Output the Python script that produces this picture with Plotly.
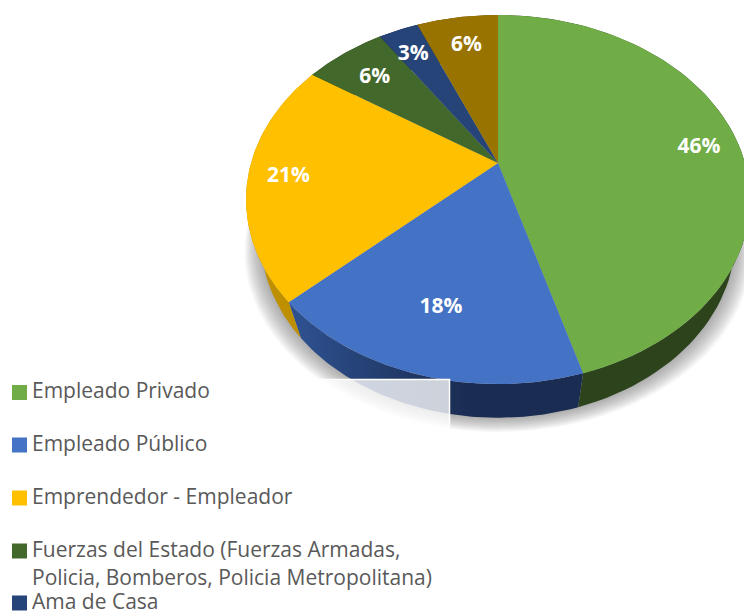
import math
import plotly.graph_objects as go

# ---- data ----
categories = ["Empleado Privado", "Empleado Público", "Emprendedor - Empleador",
              "Fuerzas del Estado (Fuerzas Armadas, Policia, Bomberos, Policia Metropolitana)",
              "Ama de Casa", "Otros"]
values = [45.5, 17.6, 21.2, 6.3, 3.1, 6.3]

# ---- styles ----
colors = ["#70AD47", "#4472C4", "#FFC000", "#43682B", "#264478", "#997300"]
wall_colors = ["#2C431C", "#1A2C52", "#BE8F00", "#2A4019", "#172A4A", "#5E4700"]
label_radius = [0.85, 0.72, 0.84, 0.78, 0.83, 0.80]
label_nudge_x = [-2, -2, 0, 0, 0, 2]
label_nudge_y = [5, 2, 1, 3, 5, 3]
FONT = "Open Sans"

# perspective circle -> page geometry
AX, AY = 498.0, 163.0
A, B, K = 247.0, 177.3, 0.198
WALL_SX, WALL_SY, WALL_DY = 0.942, 0.976, 39.0


def proj(theta, r=1.0):
    u, v = r * math.sin(theta), r * math.cos(theta)
    w = 1 + K * v
    return A * u / w, B * v / w


def rim(theta):
    x, y = proj(theta)
    return AX + x, AY - y


def lower(theta, grow=0.0):
    x, y = proj(theta)
    return AX + x * WALL_SX * (1 + grow / 235), AY + (-y) * WALL_SY + WALL_DY + grow * 0.9


def arc(t0, t1, f, n=80):
    return [f(t0 + (t1 - t0) * i / n) for i in range(n + 1)]


total = sum(values)
edges = [0.0]
for val in values:
    edges.append(edges[-1] + val / total * 2 * math.pi)

fig = go.Figure()

# soft shadow under the disc
for g in range(16, 0, -1):
    pts = arc(0, 2 * math.pi, lambda t, g=g: lower(t, g), 160)
    fig.add_trace(go.Scatter(x=[p[0] for p in pts], y=[p[1] for p in pts], mode="lines",
                             line=dict(width=0), fill="toself",
                             fillcolor="rgba(90,90,90,0.04)", hoverinfo="skip", showlegend=False))

# side wall
for i, name in enumerate(categories):
    t0, t1 = edges[i], edges[i + 1]
    upper_pts = arc(t0, t1, rim)
    lower_pts = arc(t1, t0, lower)
    pts = upper_pts + lower_pts + [upper_pts[0]]
    kw = dict(fillcolor=wall_colors[i])
    if i == 1:
        kw = dict(fillgradient=dict(type="horizontal", start=295, stop=470,
                                    colorscale=[[0, "#2E5190"], [0.55, "#223B6B"], [1, "#1A2C52"]]))
    fig.add_trace(go.Scatter(x=[p[0] for p in pts], y=[p[1] for p in pts], mode="lines",
                             line=dict(width=0), fill="toself", hoverinfo="skip",
                             showlegend=False, name=name, **kw))

# top face
for i, name in enumerate(categories):
    pts = [(AX, AY)] + arc(edges[i], edges[i + 1], rim) + [(AX, AY)]
    fig.add_trace(go.Scatter(x=[p[0] for p in pts], y=[p[1] for p in pts], mode="lines",
                             line=dict(width=0), fill="toself", fillcolor=colors[i],
                             name=name, hoverinfo="name", showlegend=False))

# percentage labels
lx, ly, lt = [], [], []
for i, val in enumerate(values):
    x, y = proj((edges[i] + edges[i + 1]) / 2, label_radius[i])
    lx.append(AX + x + label_nudge_x[i])
    ly.append(AY - y + label_nudge_y[i])
    lt.append(f"{round(val / total * 100)}%")
fig.add_trace(go.Scatter(x=lx, y=ly, mode="text", text=lt, textposition="middle center",
                         textfont=dict(family=FONT, size=21, color="white", weight="bold"),
                         hoverinfo="skip", showlegend=False))

# translucent white legend box overlapping the disc
BOX_X = [-5, 449.5, 449.5, -5, -5]
BOX_Y = [379.5, 379.5, 640, 640, 379.5]
fig.add_trace(go.Scatter(x=BOX_X, y=BOX_Y, mode="lines", line=dict(color="white", width=1.5),
                         fill="toself", fillcolor="rgba(255,255,255,0.78)",
                         hoverinfo="skip", showlegend=False))

# legend rows (the last category falls outside the picture)
legend_lines = [categories[0], categories[1], categories[2],
                "Fuerzas del Estado (Fuerzas Armadas,", categories[4]]
fig.add_trace(go.Scatter(x=[19.5] * 5, y=[392.5, 445, 498, 551, 603], mode="markers",
                         marker=dict(symbol="square", size=15, color=colors[:5], line=dict(width=0)),
                         hoverinfo="skip", showlegend=False))
fig.add_trace(go.Scatter(x=[32] * 6, y=[393, 446, 499, 552, 580, 604], mode="text",
                         text=legend_lines[:4] + ["Policia, Bomberos, Policia Metropolitana)"] + legend_lines[4:],
                         textposition="middle right",
                         textfont=dict(family=FONT, size=21, color="#595959"),
                         hoverinfo="skip", showlegend=False))

fig.update_layout(
    width=744, height=611, margin=dict(l=0, r=0, t=0, b=0),
    paper_bgcolor="white", plot_bgcolor="white",
    xaxis=dict(range=[0, 744], visible=False, fixedrange=True),
    yaxis=dict(range=[611, 0], visible=False, fixedrange=True),
)

fig.write_html("out.html", config=dict(displayModeBar=False),
               post_script="document.body.style.margin='0';")
